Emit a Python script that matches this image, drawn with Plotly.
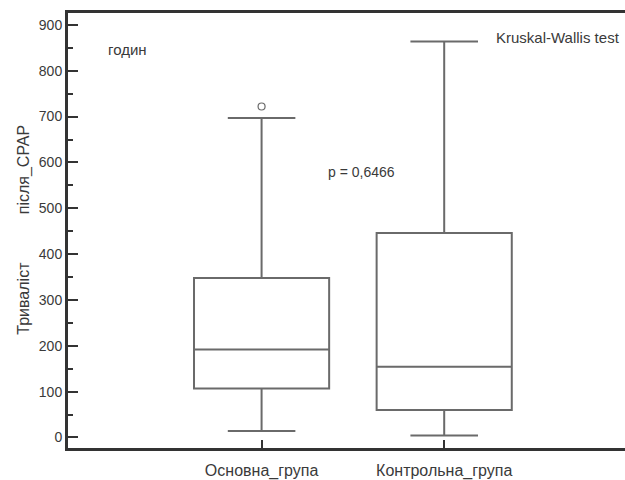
import plotly.graph_objects as go

groups = ["Основна_група", "Контрольна_група"]
q1 = [107, 60]
median = [192, 154]
q3 = [348, 446]
lower_whisker = [14, 4]
upper_whisker = [697, 864]
outlier_group = ["Основна_група"]
outlier_value = [722]

y_ticks = [0, 100, 200, 300, 400, 500, 600, 700, 800, 900]

FONT = "Liberation Sans, Arial, sans-serif"
LINE = "#6a6a6a"
TXT = "#3a3a3a"
AX = "#333333"

L, R, T, B = 68, 625, 13, 450

fig = go.Figure()
fig.add_trace(go.Box(
    x=groups, q1=q1, median=median, q3=q3,
    lowerfence=lower_whisker, upperfence=upper_whisker,
    boxpoints=False, width=0.74, whiskerwidth=0.5,
    line=dict(color=LINE, width=2), fillcolor="rgba(0,0,0,0)",
    showlegend=False, hoverinfo="skip"))
fig.add_trace(go.Scatter(
    x=outlier_group, y=outlier_value, mode="markers",
    marker=dict(symbol="circle-open", size=7, color=LINE, line=dict(width=1.2)),
    showlegend=False, hoverinfo="skip"))

fig.update_layout(
    width=625, height=480,
    margin=dict(l=L, r=625 - R, t=T, b=480 - B),
    paper_bgcolor="white", plot_bgcolor="white",
    font=dict(family=FONT, size=14, color=TXT),
    xaxis=dict(type="category", categoryorder="array", categoryarray=groups,
               range=[-1.06, 1.99], showline=True, linecolor=AX, linewidth=3,
               mirror=True, ticks="inside", ticklen=8, tickwidth=2, tickcolor=AX,
               showgrid=False, zeroline=False, ticklabelstandoff=6,
               tickfont=dict(family=FONT, size=16, color=TXT)),
    yaxis=dict(range=[-23, 926], tickvals=y_ticks, showline=True, linecolor=AX,
               linewidth=3, ticks="inside", ticklen=10, tickwidth=2, tickcolor=AX,
               minor=dict(ticks="inside", ticklen=5, dtick=50, tick0=0, tickwidth=1.5, tickcolor=AX),
               showgrid=False, zeroline=False,
               tickfont=dict(family=FONT, size=14, color=TXT)),
)


def px_x(x):
    return (x - L) / (R - L)


def px_y(y):
    return 1 - (y - T) / (B - T)


texts = [
    ("годин", 127.5, 49.5, 15, 0),
    ("Kruskal-Wallis test", 558, 37.5, 15, 0),
    ("p = 0,6466", 361, 173, 14, 0),
    ("після_CPAP", 24, 170, 16, -90),
    ("Тривалiст", 24, 300, 16, -90),
]
for txt, x, y, size, ang in texts:
    fig.add_annotation(text=txt, x=px_x(x), y=px_y(y), xref="paper", yref="paper",
                       showarrow=False, textangle=ang,
                       xanchor="center", yanchor="middle",
                       font=dict(family=FONT, size=size, color=TXT))

fig.write_html("out.html", config={"displayModeBar": False},
               post_script="document.body.style.margin='0';document.body.style.padding='0';")
